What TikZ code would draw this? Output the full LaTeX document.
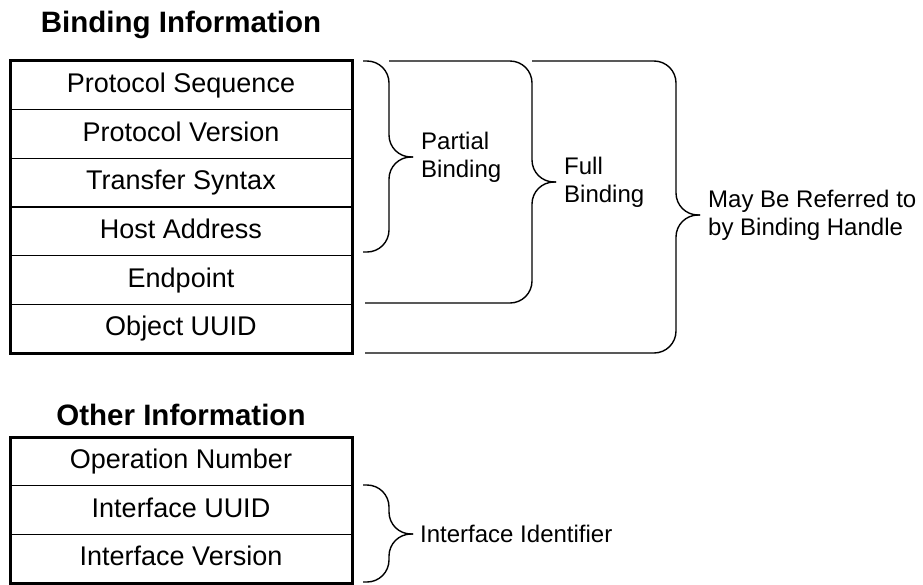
\documentclass[tikz,border=0pt]{standalone}
\usepackage{fontspec}
\setmainfont{Liberation Sans}
\usetikzlibrary{positioning}

\tikzset{
  cell/.style={draw, line width=1.3pt, minimum width=342pt, minimum height=48.67pt,
    inner sep=0pt, outer sep=0pt, text height=20pt, text depth=6pt,
    font=\fontsize{27}{30}\selectfont},
  frame/.style={line width=3pt},
  title/.style={anchor=base, inner sep=0pt, font=\fontsize{29.5}{32}\selectfont\bfseries},
  brace/.style={line width=1.4pt, rounded corners=22pt},
  bracelabel/.style={anchor=west, inner sep=0pt, xshift=8pt, align=left,
    font=\fontsize{24}{28}\selectfont},
}

\begin{document}
\begin{tikzpicture}[x=1pt, y=-1pt]
\useasboundingbox (0,0) rectangle (923,584);

% binding information table
\node[title] (bindTitle) at (181,32) {Binding Information};
\node[cell] (protoSeq) at (181,85.33) {Protocol Sequence};
\node[cell, below=0pt of protoSeq] (protoVer) {Protocol Version};
\node[cell, below=0pt of protoVer] (transSyn) {Transfer Syntax};
\node[cell, below=0pt of transSyn] (hostAddr) {Host Address};
\node[cell, below=0pt of hostAddr] (endPt) {Endpoint};
\node[cell, below=0pt of endPt] (objUuid) {Object UUID};
\draw[frame] (protoSeq.north west) rectangle (objUuid.south east);

% braces
\coordinate (partTop) at (363,61);
\coordinate (partBot) at (363,252);
\coordinate (partTip) at (413,157);
\draw[brace] (partTip) -- ++(-24,0) |- (partTop);
\draw[brace] (partTip) -- ++(-24,0) |- (partBot);
\node[bracelabel] (partLabel) at (partTip) {Partial\\Binding};

\coordinate (fullTop) at (389,61);
\coordinate (fullBot) at (365,303);
\coordinate (fullTip) at (556,182);
\draw[brace] (fullTip) -- ++(-24,0) |- (fullTop);
\draw[brace] (fullTip) -- ++(-24,0) |- (fullBot);
\node[bracelabel] (fullLabel) at (fullTip) {Full\\Binding};

\coordinate (handleTop) at (532,61);
\coordinate (handleBot) at (365,353);
\coordinate (handleTip) at (700,215);
\draw[brace] (handleTip) -- ++(-24,0) |- (handleTop);
\draw[brace] (handleTip) -- ++(-24,0) |- (handleBot);
\node[bracelabel] (handleLabel) at (handleTip) {May Be Referred to\\by Binding Handle};

% other information table
\node[title] (otherTitle) at (181,425) {Other Information};
\node[cell] (opNum) at (181,461.33) {Operation Number};
\node[cell, below=0pt of opNum] (ifUuid) {Interface UUID};
\node[cell, below=0pt of ifUuid] (ifVer) {Interface Version};
\draw[frame] (opNum.north west) rectangle (ifVer.south east);

\coordinate (ifTop) at (363,485);
\coordinate (ifBot) at (363,582);
\coordinate (ifTip) at (413,534);
\draw[brace] (ifTip) -- ++(-24,0) |- (ifTop);
\draw[brace] (ifTip) -- ++(-24,0) |- (ifBot);
\node[bracelabel, xshift=-1pt] (ifLabel) at (ifTip) {Interface Identifier};
\end{tikzpicture}
\end{document}
